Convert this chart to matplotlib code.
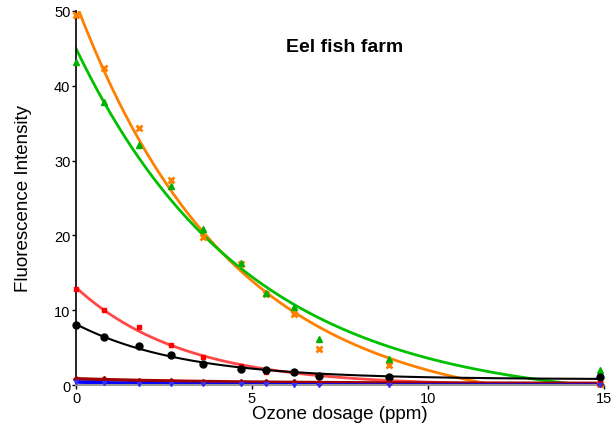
import numpy as np
import matplotlib.pyplot as plt

plt.rcParams['font.family'] = ['Liberation Sans', 'DejaVu Sans']

# ozone dosage (ppm)
dose = [0, 0.8, 1.8, 2.7, 3.6, 4.7, 5.4, 6.2, 6.9, 8.9, 14.9]

orange = [49.5, 42.4, 34.4, 27.4, 19.8, 16.2, 12.2, 9.5, 4.8, 2.7, 0.1]
green = [43.2, 37.8, 32.1, 26.6, 20.8, 16.3, 12.3, 10.4, 6.1, 3.5, 2.0]
red = [12.8, 10.0, 7.8, 5.4, 3.7, 2.6, 1.7, 1.7, 1.1, 0.6, 0.3]
black = [8.0, 6.4, 5.2, 4.0, 2.8, 2.2, 2.0, 1.8, 1.2, 1.1, 1.1]
darkred = [0.8, 0.8, 0.6, 0.5, 0.4, 0.4, 0.4, 0.4, 0.3, 0.3, 0.2]
blue = [0.4, 0.3, 0.2, 0.1, 0.1, 0.1, 0.1, 0.0, 0.0, 0.0, 0.0]


def fit_decay(x, y):
    # y = a*exp(-k*x) + c, grid over k, least squares for a, c
    x = np.asarray(x, float)
    y = np.asarray(y, float)
    best = None
    for k in np.linspace(0.01, 1.5, 600):
        A = np.column_stack([np.exp(-k * x), np.ones_like(x)])
        coef, *_ = np.linalg.lstsq(A, y, rcond=None)
        err = np.sum((A @ coef - y) ** 2)
        if best is None or err < best[0]:
            best = (err, k, coef)
    _, k, (a, c) = best
    return lambda t: a * np.exp(-k * t) + c


# values, line colour, marker colour, marker, size, edge width, line width
series = [
    (orange, '#FF8000', '#FF8000', 'x', 4, 2.0, 2),
    (green, '#00C000', '#00B000', '^', 4, 1.0, 2),
    (red, '#FF4848', '#FF0000', 's', 3.5, 1.0, 2),
    (black, 'black', 'black', 'o', 5, 1.0, 1.5),
    (darkred, '#A00000', '#A00000', 'D', 3, 1.0, 2.5),
    (blue, '#0000FF', '#3030FF', 'v', 3, 1.0, 2.5),
]

fig = plt.figure(figsize=(6.13, 4.27), dpi=100)
ax = fig.add_axes([0.124, 0.096, 0.861, 0.876])

xs = np.linspace(0, 14.9, 300)
for vals, lc, mc, m, ms, mew, lw in series:
    f = fit_decay(dose, vals)
    ax.plot(xs, f(xs), color=lc, lw=lw, zorder=2)
    ax.plot(dose, vals, linestyle='none', marker=m, ms=ms, color=mc,
            mew=mew, zorder=3, clip_on=False)

ax.set_xlim(0, 15)
ax.set_ylim(0, 50)
ax.set_xticks([0, 5, 10, 15])
ax.set_yticks([0, 10, 20, 30, 40, 50])
ax.tick_params(labelsize=10.5, length=3, width=1, pad=1)
ax.spines['top'].set_visible(False)
ax.spines['right'].set_visible(False)
ax.spines['bottom'].set_color('#999999')
ax.spines['bottom'].set_linewidth(1.5)
ax.spines['left'].set_linewidth(1.2)

ax.set_xlabel('Ozone dosage (ppm)', fontsize=13.5, labelpad=0)
ax.set_ylabel('Fluorescence Intensity', fontsize=13.5, labelpad=16)
ax.text(0.509, 0.906, 'Eel fish farm', transform=ax.transAxes,
        fontsize=14, fontweight='bold', ha='center', va='center')

fig.savefig('out.png', dpi=100)
